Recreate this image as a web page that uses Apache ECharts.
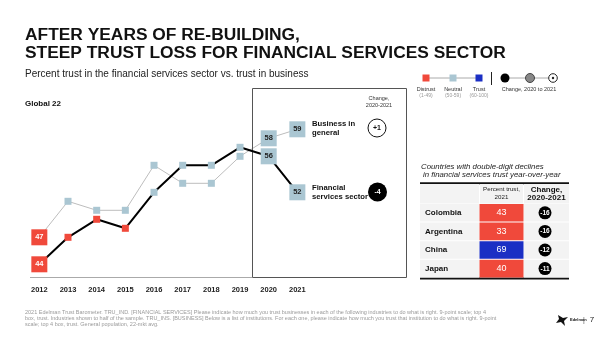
<!DOCTYPE html>
<html><head><meta charset="utf-8">
<script src="https://cdn.jsdelivr.net/npm/echarts@6/dist/echarts.min.js"></script>
<style>html,body{margin:0;padding:0;background:#fff}#c{width:600px;height:337px}</style>
</head><body><div id="c"></div>
<script>
var years = ['2012','2013','2014','2015','2016','2017','2018','2019','2020','2021'];
var business = [47,51,50,50,55,53,53,56,58,59];
var financial = [44,47,49,48,52,55,55,57,56,52];
var labeledIdx = [0,8,9];
var countries = ['Colombia','Argentina','China','Japan'];
var trust2021 = [43,33,69,40];
var change = [-16,-16,-12,-11];
var businessChange = '+1';
var financialChange = '-4';

(function(){
var RED = '#f0493b', LBLUE = '#aac6d2', BLUE = '#1b2fc4';
function col(v){ return v < 50 ? RED : (v < 60 ? LBLUE : BLUE); }
var F = 'Liberation Sans, Arial, sans-serif';

function mkData(arr){
  return arr.map(function(v,i){
    var big = labeledIdx.indexOf(i) >= 0;
    return {
      value: v,
      symbolSize: big ? 16 : 7,
      itemStyle: {color: col(v)},
      label: {show: big, position: 'inside', formatter: String(v), fontSize: 7.5, fontWeight: 'bold', fontFamily: F,
              color: v < 50 ? '#fff' : '#222'}
    };
  });
}

var g = [];
function txt(x,y,t,o){ o=o||{}; var el={type:'text',x:x,y:y,z:10,style:{text:t,fontFamily:F,fontSize:o.s||8,fontWeight:o.b?'bold':'normal',fontStyle:o.i?'italic':'normal',fill:o.c||'#111',textAlign:o.a||'left',textVerticalAlign:'middle'}}; if(o.sx){el.scaleX=o.sx;} g.push(el); }
function rect(x,y,w,h,fill,o){ o=o||{}; g.push({type:'rect',z:o.z||5,shape:{x:x,y:y,width:w,height:h},style:{fill:fill,stroke:o.stroke||null,lineWidth:o.lw||0}}); }
function line(x1,y1,x2,y2,c,w){ g.push({type:'line',z:4,shape:{x1:x1,y1:y1,x2:x2,y2:y2},style:{stroke:c,lineWidth:w||1}}); }
function circ(x,y,r,fill,stroke,lw){ g.push({type:'circle',z:6,shape:{cx:x,cy:y,r:r},style:{fill:fill,stroke:stroke||null,lineWidth:lw||0}}); }

// titles
txt(25,36,'AFTER YEARS OF RE-BUILDING,',{s:16,b:true,sx:1.085});
txt(25,54,'STEEP TRUST LOSS FOR FINANCIAL SERVICES SECTOR',{s:16,b:true,sx:1.085});
txt(25,74.5,'Percent trust in the financial services sector vs. trust in business',{s:10,c:'#222'});
txt(25,104,'Global 22',{s:8,b:true});

// axis line and box
line(30,277.5,252,277.5,'#aaa',1);
rect(252.5,88.5,154,189,'none',{stroke:'#555',lw:1,z:3});

// right annotations
txt(379,98,'Change,',{s:5.5,a:'center',c:'#333'});
txt(379,105,'2020-2021',{s:5.5,a:'center',c:'#333'});
txt(312,124,'Business in',{s:7.7,b:true});
txt(312,133,'general',{s:7.7,b:true});
txt(312,188,'Financial',{s:7.7,b:true});
txt(312,197,'services sector',{s:7.7,b:true});
circ(377,128,9,'#fff','#111',1);
txt(377,128.5,businessChange,{s:7,b:true,a:'center'});
circ(377.5,192,9.5,'#000');
txt(377.5,192.5,financialChange,{s:7,b:true,a:'center',c:'#fff'});

// legend
line(426,78,479,78,'#aaa',1);
rect(422.5,74.5,7,7,RED,{z:6});
rect(449.5,74.5,7,7,LBLUE,{z:6});
rect(475.5,74.5,7,7,BLUE,{z:6});
line(491.5,72,491.5,85,'#222',1);
line(505,78,553,78,'#aaa',1);
circ(505,78,4.5,'#000');
circ(530,78,4.5,'#888','#444',1);
circ(553,78,4.3,'#fff','#222',1);
circ(553,78,1.2,'#222');
txt(426,89,'Distrust',{s:5.5,a:'center',c:'#333'});
txt(426,95.5,'(1-49)',{s:5,a:'center',c:'#999'});
txt(453,89,'Neutral',{s:5.5,a:'center',c:'#333'});
txt(453,95.5,'(50-59)',{s:5,a:'center',c:'#999'});
txt(479,89,'Trust',{s:5.5,a:'center',c:'#333'});
txt(479,95.5,'(60-100)',{s:5,a:'center',c:'#999'});
txt(529,89,'Change, 2020 to 2021',{s:5.5,a:'center',c:'#333'});

// table
txt(421,166.5,'Countries with double-digit declines',{s:7.8,i:true,c:'#222'});
txt(423,175,'in financial services trust year-over-year',{s:7.8,i:true,c:'#222'});
var tx = 420, tw = 149, c1 = 479.5, c2 = 523.5, ty = 184, hh = 19.5, rh = 18.6;
rect(tx,ty,c1-tx-0.5,hh,'#f3f3f3');
rect(c1+0.5,ty,c2-c1-1,hh,'#f3f3f3');
rect(c2+0.5,ty,tx+tw-c2-0.5,hh,'#f3f3f3');
txt((c1+c2)/2,189.5,'Percent trust,',{s:6.2,a:'center',c:'#222'});
txt((c1+c2)/2,197.5,'2021',{s:6.2,a:'center',c:'#222'});
txt(546.5,189.5,'Change,',{s:8,b:true,a:'center'});
txt(546.5,198,'2020-2021',{s:8,b:true,a:'center'});
countries.forEach(function(cn,i){
  var y0 = ty + hh + i*rh, cy = y0 + rh/2;
  rect(tx,y0+0.5,c1-tx-0.5,rh-1,'#f3f3f3');
  rect(c1,y0+0.5,c2-c1,rh-1,col(trust2021[i]));
  rect(c2+0.5,y0+0.5,tx+tw-c2-0.5,rh-1,'#f3f3f3');
  txt(425,cy,cn,{s:8,b:true});
  txt((c1+c2)/2,cy,String(trust2021[i]),{s:9,a:'center',c:'#fff'});
  circ(545,cy,6.5,'#000');
  txt(545,cy+0.3,String(change[i]),{s:6.5,b:true,a:'center',c:'#fff'});
});
line(tx,183.3,tx+tw,183.3,'#111',2);
line(tx,278.5,tx+tw,278.5,'#111',2);

// footnote
var fn = ['2021 Edelman Trust Barometer. TRU_IND. [FINANCIAL SERVICES] Please indicate how much you trust businesses in each of the following industries to do what is right. 9-point scale; top 4',
 'box, trust. Industries shown to half of the sample. TRU_INS. [BUSINESS] Below is a list of institutions. For each one, please indicate how much you trust that institution to do what is right. 9-point',
 'scale; top 4 box, trust. General population, 22-mkt avg.'];
fn.forEach(function(t,i){ txt(25,312+i*6.3,t,{s:5.5,c:'#9a9a9a'}); });
g.push({type:'polygon',z:6,shape:{points:[[558,315],[563,318],[568,317],[564,321],[565,326],[561,322],[556,323],[559,319]]},style:{fill:'#111'}});
txt(570,320,'Edelman',{s:4,b:true});
txt(584,320,'|',{s:7,c:'#555',a:'center'});
txt(592,320,'7',{s:8,c:'#222',a:'center'});

var chart = echarts.init(document.getElementById('c'), null, {renderer:'canvas'});
chart.setOption({
  animation: false,
  grid: {left: 25, top: 111.3, width: 286.7, height: 162},
  xAxis: {type:'category', data: years, boundaryGap: true,
    axisLine:{show:false}, axisTick:{show:false},
    axisLabel:{fontFamily:F, fontSize:7.5, fontWeight:'bold', color:'#222', margin:13}},
  yAxis: {type:'value', min:43, max:61, show:false, splitLine:{show:false}},
  series: [
    {type:'line', name:'Business in general', data: mkData(business), symbol:'rect',
     lineStyle:{color:'#bdbdbd', width:1}, z:2},
    {type:'line', name:'Financial services sector', data: mkData(financial), symbol:'rect',
     lineStyle:{color:'#000', width:2}, z:3}
  ],
  graphic: g
});
})();
</script></body></html>
